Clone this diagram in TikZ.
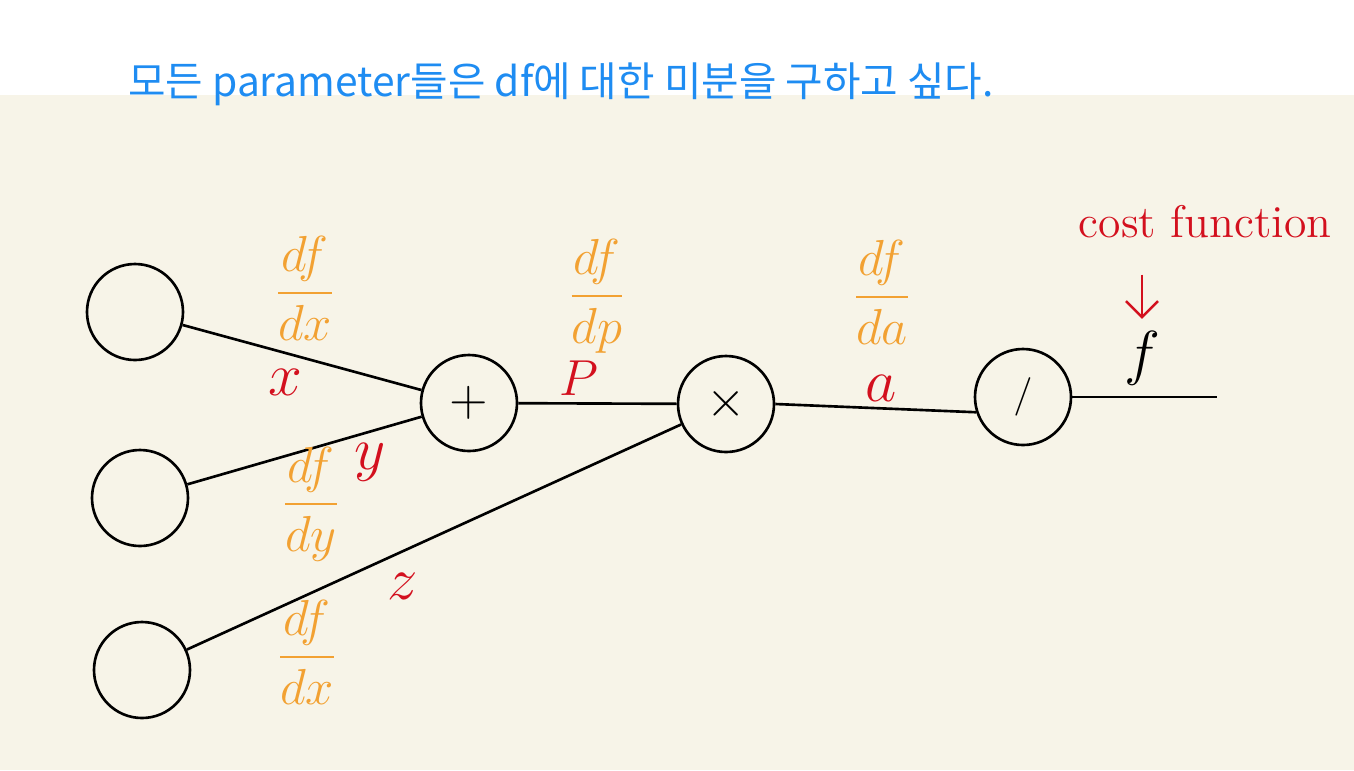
\documentclass[tikz,border=0pt]{standalone}
\usepackage{amsmath}
\usepackage{fontspec}
\newfontfamily\krfont{Noto Sans CJK KR}
\usetikzlibrary{arrows.meta,positioning,calc}
\definecolor{paper}{HTML}{F7F4E8}
\definecolor{titleblue}{HTML}{1E8CF2}
\definecolor{grad}{HTML}{F2A132}
\definecolor{var}{HTML}{D3101E}

\begin{document}
\begin{tikzpicture}[
  op/.style={circle,draw,line width=0.75pt,minimum size=0.96cm,inner sep=0pt,font=\fontsize{14}{14}\selectfont},
  wire/.style={line width=0.75pt},
  gradlbl/.style={text=grad,inner sep=0.5pt,font=\fontsize{13.5}{16}\selectfont},
  varlbl/.style={text=var,inner sep=0.5pt,font=\fontsize{16}{16}\selectfont}]
  % page: white strip on top, paper below
  \fill[white] (0,0) rectangle (13.54,-0.95);
  \fill[paper] (0,-0.95) rectangle (13.54,-7.70);
  \useasboundingbox (0,0) rectangle (13.54,-7.70);
  \node[text=titleblue,font=\krfont\fontsize{11.6}{13}\selectfont] (title) at (5.61,-0.84)
    {모든 parameter들은 df에 대한 미분을 구하고 싶다.};
  % inputs and operations
  \node[op] (xin) at (1.35,-3.12) {};
  \node[op] (yin) at (1.40,-4.98) {};
  \node[op] (zin) at (1.42,-6.70) {};
  \node[op] (plus) at (4.69,-4.03) {$+$};
  \node[op] (mult) at (7.26,-4.04) {$\times$};
  \node[op,font=\fontsize{11}{11}\selectfont] (divi) at (10.23,-3.97) {$/$};
  \coordinate (fend) at (12.17,-3.97);
  \draw[wire] (xin) -- (plus);
  \draw[wire] (yin) -- (plus);
  \draw[wire] (zin) -- (mult);
  \draw[wire] (plus) -- (mult);
  \draw[wire] (mult.east) -- (divi.198);
  \draw[wire] (divi.east) -- (fend);
  % variables and their gradients
  \node[gradlbl] (gx) at (3.05,-2.88) {$\dfrac{df}{dx}$};
  \node[varlbl] (vx) at (2.85,-3.82) {$x$};
  \node[varlbl] (vy) at (3.70,-4.62) {$y$};
  \node[gradlbl] (gy) at (3.11,-5.04) {$\dfrac{df}{dy}$};
  \node[varlbl] (vz) at (4.03,-5.86) {$z$};
  \node[gradlbl] (gz) at (3.07,-6.52) {$\dfrac{df}{dx}$};
  \node[gradlbl] (gp) at (5.97,-2.96) {$\dfrac{df}{dp}$};
  \node[varlbl,font=\fontsize{15}{15}\selectfont] (vp) at (5.79,-3.78) {$P$};
  \node[gradlbl] (gq) at (8.82,-2.92) {$\dfrac{df}{da}$};
  \node[varlbl] (vq) at (8.81,-3.88) {$a$};
  \node[font=\fontsize{16}{16}\selectfont,inner sep=1pt] (flab) at (11.42,-3.58) {$f$};
  \node[text=var,font=\fontsize{13}{13}\selectfont] (cost) at (12.05,-2.22) {cost function};
  \draw[var,line width=0.7pt,-{Straight Barb[length=1.6mm]},shorten <=2.4mm,shorten >=0.8mm]
    (cost.south -| flab.north) -- (flab.north);
\end{tikzpicture}
\end{document}
